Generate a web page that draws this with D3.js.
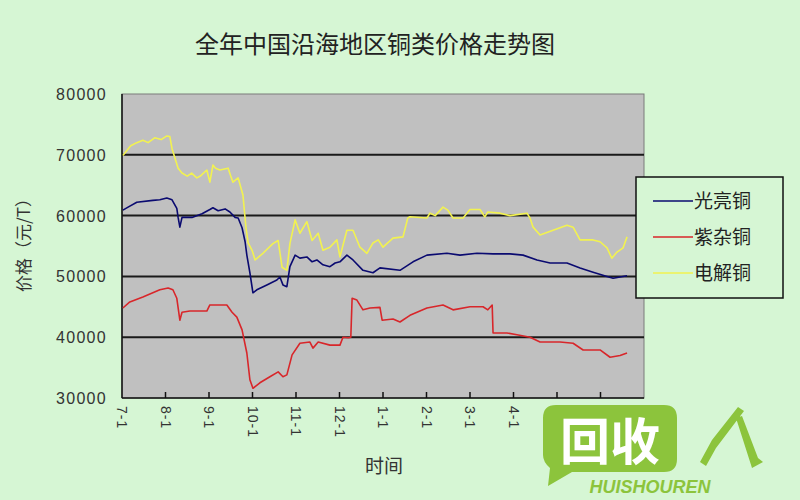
<!DOCTYPE html>
<html><head><meta charset="utf-8">
<script src="https://cdn.jsdelivr.net/npm/d3@7"></script>
<style>body{margin:0;background:#d6f6d4;}svg{display:block;}</style>
</head><body>
<svg id="c" width="800" height="500"></svg>
<script>
// months since 7-1 (0 = 7-1, 1 = 8-1, ...)
const tickLabels = ["7-1","8-1","9-1","10-1","11-1","12-1","1-1","2-1","3-1","4-1"];
const seriesNames = ["光亮铜","紫杂铜","电解铜"];
const seriesColors = ["#0a0a70","#d8262a","#f2f250"];

const tBright = [0.02,0.14,0.34,0.71,0.87,1.03,1.15,1.26,1.29,1.33,1.38,1.61,1.84,2.02,2.09,2.21,2.37,2.48,2.60,2.67,2.76,2.83,2.87,2.94,3.01,3.10,3.33,3.56,3.63,3.70,3.79,3.86,3.98,4.09,4.25,4.37,4.48,4.62,4.78,4.90,5.01,5.17,5.31,5.54,5.77,5.93,6.39,6.69,7.01,7.47,7.77,8.16,8.53,8.92,9.22,9.54,9.84,10.23,10.53,10.83,11.15,11.29,11.45,11.61];
const vBright = [60900,61400,62200,62500,62600,62900,62600,61200,59700,58100,59700,59700,60300,61000,61300,60800,61100,60600,59700,59600,58000,55700,53500,50600,47300,47800,48600,49400,49900,48600,48300,51600,53500,53000,53200,52400,52700,51900,51600,52200,52400,53500,52700,51000,50600,51400,51000,52400,53500,53800,53500,53800,53700,53700,53500,52700,52200,52200,51400,50700,50000,49700,49900,50100];

const tMixed = [0.02,0.18,0.48,0.87,1.06,1.17,1.26,1.33,1.38,1.56,1.95,2.02,2.41,2.53,2.64,2.76,2.87,2.94,3.01,3.17,3.40,3.59,3.70,3.79,3.91,4.09,4.32,4.39,4.51,4.78,5.01,5.08,5.20,5.26,5.29,5.40,5.54,5.70,5.93,5.98,6.23,6.39,6.62,7.01,7.38,7.61,8.00,8.30,8.41,8.51,8.53,8.85,9.08,9.38,9.61,10.07,10.37,10.60,10.99,11.22,11.45,11.61];
const vMixed = [44800,45800,46600,47800,48100,47800,46400,42800,44100,44300,44300,45300,45300,44100,43300,41200,37400,33000,31600,32500,33500,34300,33500,33800,37100,39000,39200,38200,39200,38700,38700,40000,39900,40000,46400,46100,44500,44800,44900,42800,43000,42500,43600,44800,45300,44500,45000,45000,44500,45300,40700,40700,40400,40000,39200,39200,39000,37900,37900,36700,37000,37400];

const tElec = [0.02,0.2,0.34,0.48,0.6,0.75,0.9,1.03,1.1,1.15,1.26,1.29,1.38,1.5,1.6,1.72,1.8,1.95,2.02,2.09,2.15,2.25,2.44,2.50,2.55,2.67,2.78,2.85,2.90,2.99,3.06,3.24,3.47,3.59,3.68,3.79,3.86,3.98,4.09,4.25,4.37,4.51,4.62,4.78,4.94,5.01,5.17,5.31,5.47,5.63,5.77,5.89,6.0,6.23,6.46,6.57,6.62,7.01,7.08,7.2,7.38,7.49,7.61,7.84,8.00,8.23,8.34,8.41,8.69,8.92,9.31,9.38,9.45,9.61,9.91,10.23,10.37,10.53,10.83,10.99,11.15,11.26,11.38,11.52,11.61];
const vElec = [69900,71500,72000,72400,72000,72800,72500,73100,73000,71000,68500,67800,67000,66500,67000,66200,66500,67500,65500,68300,67800,67500,67800,66500,65500,66200,63400,58000,55500,54300,52700,53800,55400,55900,51500,51000,55400,59300,57100,59000,55900,57100,54300,54800,56000,53200,57600,57600,54800,53800,55500,56000,54800,56300,56500,59600,59800,59600,60400,60000,61400,60900,59600,59600,61000,61000,59800,60600,60400,60000,60400,59600,58100,56800,57600,58400,58100,56000,56000,55700,54700,53000,54000,54700,56500];

const yTicks = [30000,40000,50000,60000,70000,80000];

const svg = d3.select("#c");
svg.append("rect").attr("width",800).attr("height",500).attr("fill","#d6f6d4");

const x = d3.scaleLinear().domain([0,12]).range([122,644]);
const y = d3.scaleLinear().domain([30000,80000]).range([398,94]);

// plot area
svg.append("rect").attr("x",x(0)).attr("y",y(80000)).attr("width",x(12)-x(0)).attr("height",y(30000)-y(80000))
  .attr("fill","#c0c0c0").attr("stroke","#7a7a7a").attr("stroke-width",1);

// gridlines
svg.append("g").selectAll("line").data(yTicks.slice(1,5)).join("line")
  .attr("x1",x(0)).attr("x2",x(12)).attr("y1",d=>y(d)).attr("y2",d=>y(d))
  .attr("stroke","#1a1a1a").attr("stroke-width",2);

// y labels
svg.append("g").selectAll("text").data(yTicks).join("text")
  .attr("x",107).attr("y",d=>y(d)+6).attr("text-anchor","end")
  .attr("font-family","Liberation Sans, Arial, sans-serif").attr("font-size",16).attr("letter-spacing",1.3).attr("fill","#333")
  .text(d=>d);

// axes lines
svg.append("line").attr("x1",x(0)).attr("x2",x(0)).attr("y1",y(80000)).attr("y2",y(30000)).attr("stroke","#111").attr("stroke-width",1.5);
svg.append("line").attr("x1",x(0)).attr("x2",x(12)).attr("y1",y(30000)).attr("y2",y(30000)).attr("stroke","#111").attr("stroke-width",1.5);

// x ticks (inside)
svg.append("g").selectAll("line").data(d3.range(1,12)).join("line")
  .attr("x1",d=>x(d)).attr("x2",d=>x(d)).attr("y1",y(30000)).attr("y2",y(30000)-6)
  .attr("stroke","#111").attr("stroke-width",1.5);

// x labels rotated
svg.append("g").selectAll("text").data(tickLabels).join("text")
  .attr("transform",(d,i)=>`translate(${x(i)-5},406) rotate(90)`)
  .attr("font-family","Liberation Sans, Arial, sans-serif").attr("font-size",14).attr("letter-spacing",1).attr("fill","#333")
  .text(d=>d);

// lines
const line = d3.line().x(d=>x(d[0])).y(d=>y(d[1]));
const series = [
  d3.zip(tBright,vBright),
  d3.zip(tMixed,vMixed),
  d3.zip(tElec,vElec)
];
const drawOrder = [2,0,1];
drawOrder.forEach(i=>{
  svg.append("path").datum(series[i]).attr("d",line).attr("fill","none")
    .attr("stroke",seriesColors[i]).attr("stroke-width",1.6).attr("stroke-linejoin","round");
});

// title
svg.append("text").attr("x",375).attr("y",53).attr("text-anchor","middle")
  .attr("font-family","Noto Sans CJK SC, sans-serif").attr("font-size",24).attr("fill","#222")
  .text("全年中国沿海地区铜类价格走势图");

// axis titles
svg.append("text").attr("transform","translate(30,241) rotate(-90)").attr("text-anchor","middle")
  .attr("font-family","Noto Sans CJK SC, sans-serif").attr("font-size",17).attr("fill","#333")
  .text("价格（元/T）");
svg.append("text").attr("x",384).attr("y",473).attr("text-anchor","middle")
  .attr("font-family","Noto Sans CJK SC, sans-serif").attr("font-size",19).attr("fill","#333")
  .text("时间");

// legend
const lg = svg.append("g");
lg.append("rect").attr("x",636).attr("y",177).attr("width",147).attr("height",121)
  .attr("fill","#d6f6d4").attr("stroke","#111").attr("stroke-width",1.5);
seriesNames.forEach((n,i)=>{
  const yy = 201 + i*36;
  lg.append("line").attr("x1",653).attr("x2",693).attr("y1",yy).attr("y2",yy)
    .attr("stroke",seriesColors[i]).attr("stroke-width",1.6);
  lg.append("text").attr("x",694).attr("y",yy+7).attr("font-family","Noto Sans CJK SC, sans-serif")
    .attr("font-size",19).attr("fill","#222").text(n);
});

// watermark logo
const wm = svg.append("g");
wm.append("path").attr("d","M556,405 H664 Q677,405 677,418 V459 Q677,472 664,472 H572 L548,486 L550,468 Q543,462 543,455 V418 Q543,405 556,405 Z")
  .attr("fill","#8cc43c");
wm.append("text").attr("x",610).attr("y",460).attr("text-anchor","middle")
  .attr("font-family","Noto Sans CJK SC, sans-serif").attr("font-weight","bold").attr("font-size",50).attr("fill","#ffffff")
  .text("回收");
wm.append("text").attr("x",650).attr("y",493).attr("text-anchor","middle")
  .attr("font-family","Liberation Sans, Arial, sans-serif").attr("font-weight","bold").attr("font-style","italic")
  .attr("font-size",18).attr("fill","#8cc43c").text("HUISHOUREN");
wm.append("path").attr("d","M738,407 L744,411 L716,448 L706,466 L700,462 L712,440 Z M736,418 L742,416 L758,458 L763,462 L752,468 Z")
  .attr("fill","#8cc43c");
</script>
</body></html>
